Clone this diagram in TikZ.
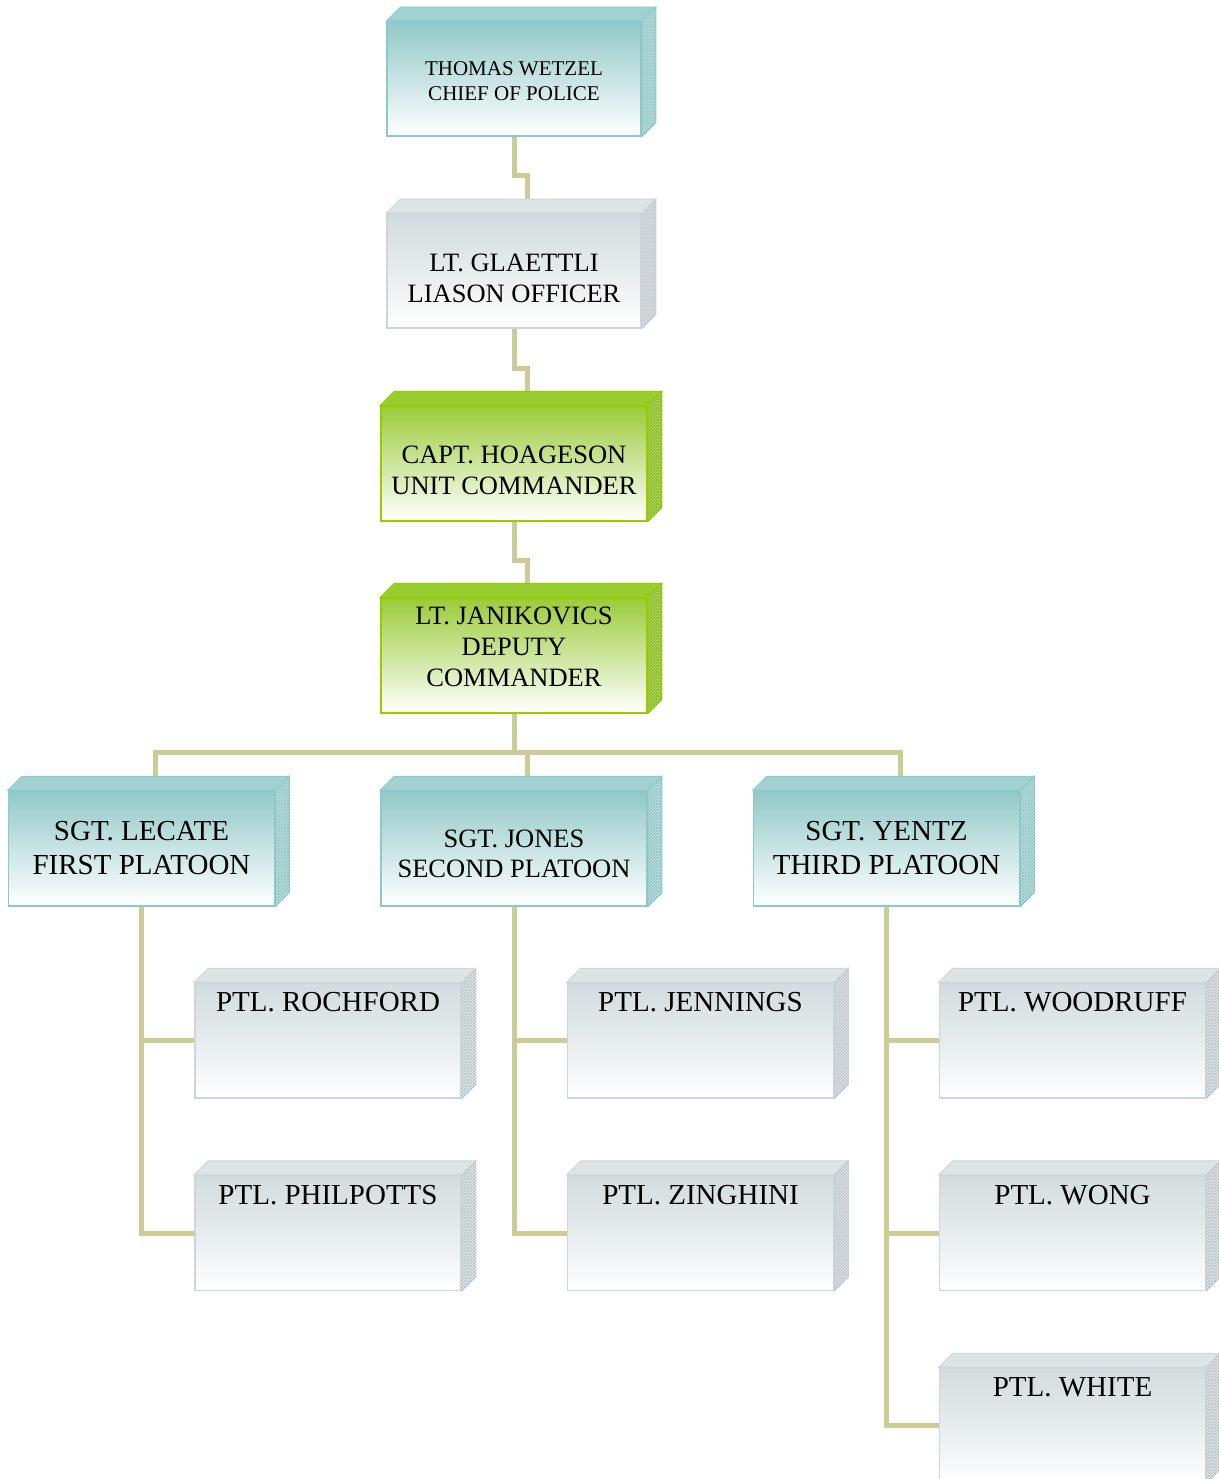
\documentclass[tikz,border=0pt]{standalone}
\usepackage{fontspec}
\setmainfont{Liberation Serif}
\usetikzlibrary{patterns}
\pgfdeclarelayer{bg}
\pgfsetlayers{bg,main}
\definecolor{tealB}{HTML}{8CC9C9}
\definecolor{tealT}{HTML}{92C8C8}
\definecolor{tealTop}{HTML}{A2D1D1}
\definecolor{tealSide}{HTML}{C6E5E5}
\definecolor{tealPat}{HTML}{8CC2C2}
\definecolor{grayB}{HTML}{CDD7D9}
\definecolor{grayT}{HTML}{D2DCDE}
\definecolor{grayTop}{HTML}{DDE4E6}
\definecolor{graySide}{HTML}{E6EAEC}
\definecolor{grayPat}{HTML}{B9C2C6}
\definecolor{greenB}{HTML}{99CC00}
\definecolor{greenT}{HTML}{9BCB3A}
\definecolor{greenTop}{HTML}{99CC2E}
\definecolor{greenSide}{HTML}{B8DA6E}
\definecolor{greenPat}{HTML}{86B81E}
\definecolor{connC}{HTML}{CCCC99}
\newcommand{\fsz}[2]{\fontsize{#1}{#2}\selectfont}
\newcommand{\faces}[2]{%
  \filldraw[#2top] (#1.north west) -- ++(14,-14) -- ([shift={(14,-14)}]#1.north east) -- (#1.north east) -- cycle;
  \filldraw[#2side] (#1.north east) -- ++(14,-14) -- ([shift={(14,-14)}]#1.south east) -- (#1.south east) -- cycle;
}
\tikzset{
  base/.style={rectangle, inner sep=0pt, line width=1.5pt, text=black},
  tealbox/.style={base, draw=tealB, top color=tealT, bottom color=white, middle color=tealT!50!white},
  graybox/.style={base, draw=grayB, top color=grayT, bottom color=white, middle color=grayT!55!white},
  greenbox/.style={base, draw=greenB, top color=greenT, bottom color=white, middle color=greenT!50!white},
  tealtop/.style={fill=tealTop, draw=tealB, line width=1pt},
  tealside/.style={fill=tealSide, draw=tealB, line width=1pt, postaction={pattern=crosshatch, pattern color=tealPat}},
  graytop/.style={fill=grayTop, draw=grayB, line width=1pt},
  grayside/.style={fill=graySide, draw=grayB, line width=1pt, postaction={pattern=crosshatch, pattern color=grayPat}},
  greentop/.style={fill=greenTop, draw=greenB, line width=1pt},
  greenside/.style={fill=greenSide, draw=greenB, line width=1pt, postaction={pattern=crosshatch, pattern color=greenPat}},
  lbl/.style={inner sep=0pt, align=center, text=black},
  big/.style={minimum width=266pt, minimum height=115pt},
  conn/.style={draw=connC, line width=5pt},
}
\begin{document}
\begin{tikzpicture}[x=1pt, y=-1pt]
\begin{pgfonlayer}{bg}
\fill[white] (0,0) rectangle (1218,1479);
\end{pgfonlayer}
\useasboundingbox (0,0) rectangle (1218,1479);

% top chain
\node[tealbox, minimum width=254pt, minimum height=114pt,
  label={[lbl, font=\fsz{21}{25}, yshift=-2.5pt]center:THOMAS WETZEL\\CHIEF OF POLICE}] (chief) at (514,79) {};
\faces{chief}{teal}
\node[graybox, minimum width=254pt, minimum height=114pt,
  label={[lbl, font=\fsz{26.5}{31}, yshift=-7.5pt]center:LT. GLAETTLI\\LIASON OFFICER}] (glaettli) at (514,271) {};
\faces{glaettli}{gray}
\node[greenbox, big,
  label={[lbl, font=\fsz{26.5}{31}, yshift=-6.5pt]center:CAPT. HOAGESON\\UNIT COMMANDER}] (hoag) at (514,463.5) {};
\faces{hoag}{green}
\node[greenbox, big,
  label={[lbl, font=\fsz{26.5}{31}, yshift=8.5pt]center:LT. JANIKOVICS\\DEPUTY\\COMMANDER}] (jan) at (514,655.5) {};
\faces{jan}{green}

% platoons
\node[tealbox, big,
  label={[lbl, font=\fsz{29}{34}]center:SGT. LECATE\\FIRST PLATOON}] (lecate) at (141.5,848.5) {};
\faces{lecate}{teal}
\node[tealbox, big,
  label={[lbl, font=\fsz{26.5}{30}, yshift=-5.5pt]center:SGT. JONES\\SECOND PLATOON}] (jones) at (514,848.5) {};
\faces{jones}{teal}
\node[tealbox, big,
  label={[lbl, font=\fsz{29}{34}]center:SGT. YENTZ\\THIRD PLATOON}] (yentz) at (886.5,848.5) {};
\faces{yentz}{teal}

% patrolmen
\tikzset{ptl/.style={graybox, big, label={[lbl, font=\fsz{29}{34}, anchor=north, yshift=-10pt]north:#1}}}
\node[ptl={PTL. ROCHFORD}] (rochford) at (328,1040.5) {};
\faces{rochford}{gray}
\node[ptl={PTL. PHILPOTTS}] (philpotts) at (328,1233) {};
\faces{philpotts}{gray}
\node[ptl={PTL. JENNINGS}] (jennings) at (700.5,1040.5) {};
\faces{jennings}{gray}
\node[ptl={PTL. ZINGHINI}] (zinghini) at (700.5,1233) {};
\faces{zinghini}{gray}
\node[ptl={PTL. WOODRUFF}] (woodruff) at (1072.5,1040.5) {};
\faces{woodruff}{gray}
\node[ptl={PTL. WONG}] (wong) at (1072.5,1233) {};
\faces{wong}{gray}
\node[ptl={PTL. WHITE}] (white) at (1072.5,1425.5) {};
\faces{white}{gray}

% connectors
\begin{pgfonlayer}{bg}
\draw[conn] (chief.south) -- ++(0,39) -| ([shift={(13,-7)}]glaettli.north);
\draw[conn] (glaettli.south) -- ++(0,40) -| ([shift={(13,-7)}]hoag.north);
\draw[conn] (hoag.south) -- ++(0,39) -| ([shift={(13,-7)}]jan.north);
\draw[conn] (jan.south) -- ++(0,39) -| ([shift={(14,-7)}]lecate.north);
\draw[conn] (jan.south) -- ++(0,39) -| ([shift={(13,-7)}]jones.north);
\draw[conn] (jan.south) -- ++(0,39) -| ([shift={(14,-7)}]yentz.north);
\draw[conn] (lecate.south) |- (rochford.west);
\draw[conn] (lecate.south) |- (philpotts.west);
\draw[conn] (jones.south) |- (jennings.west);
\draw[conn] (jones.south) |- (zinghini.west);
\draw[conn] (yentz.south) |- (woodruff.west);
\draw[conn] (yentz.south) |- (wong.west);
\draw[conn] (yentz.south) |- (white.west);
\end{pgfonlayer}
\end{tikzpicture}
\end{document}
